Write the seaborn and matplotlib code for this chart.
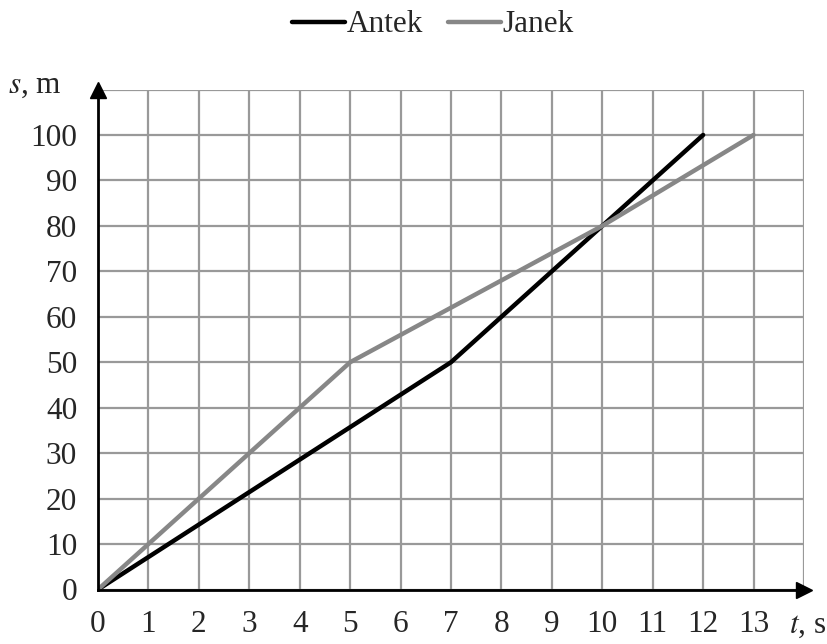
import pandas as pd
import matplotlib
matplotlib.use("Agg")
import matplotlib.pyplot as plt
import seaborn as sns

# data: time [s] and distance [m]
antek_t = [0, 7, 12]
antek_s = [0, 50, 100]
janek_t = [0, 5, 10, 13]
janek_s = [0, 50, 80, 100]
x_ticks = list(range(0, 14))
y_ticks = list(range(0, 101, 10))

df = pd.concat([
    pd.DataFrame({"t": antek_t, "s": antek_s, "name": "Antek"}),
    pd.DataFrame({"t": janek_t, "s": janek_s, "name": "Janek"}),
])

sns.set_style("white")
plt.rcParams['font.family'] = ['Liberation Serif', 'DejaVu Serif']

fig = plt.figure(figsize=(8.27, 6.44), dpi=100)
ax = fig.add_axes([98 / 827, 1 - 589.5 / 644, 706 / 827, 500 / 644])

sns.lineplot(data=df, x="t", y="s", hue="name",
             palette={"Antek": "black", "Janek": "#878787"},
             linewidth=3.2, ax=ax, legend=True, sort=False,
             solid_capstyle="round", zorder=3)

ax.set_xlim(0, 14)
ax.set_ylim(0, 110)
ax.set_xticks(list(range(0, 15)))
ax.set_yticks(list(range(0, 111, 10)))
ax.set_xticklabels([str(v) for v in x_ticks] + [""])
ax.set_yticklabels([str(v) for v in y_ticks] + [""])
ax.tick_params(axis="both", labelsize=22.5, length=9, width=2, color="black",
               direction="out", pad=6)
ax.grid(True, color="#999999", linewidth=1.6, zorder=0)
ax.set_axisbelow(True)

for side in ["top", "right"]:
    ax.spines[side].set_visible(False)
for side in ["left", "bottom"]:
    ax.spines[side].set_color("black")
    ax.spines[side].set_linewidth(2)
    ax.spines[side].set_zorder(4)

# arrow heads on the axes
ax.plot(1, 0, ">", color="black", markersize=11, transform=ax.transAxes,
        clip_on=False, zorder=5)
ax.plot(0, 1, "^", color="black", markersize=11, transform=ax.transAxes,
        clip_on=False, zorder=5)

ax.set_xlabel("")
ax.set_ylabel("")
fig.text(8 / 827, 1 - 85 / 644, "$\\mathit{s}$, m", fontsize=22.5,
         ha="left", va="center", math_fontfamily="stix")
fig.text(826 / 827, 1 - 626 / 644, "$\\mathit{t}$, s", fontsize=22.5,
         ha="right", va="center", math_fontfamily="stix")

handles, labels = ax.get_legend_handles_labels()
ax.legend(handles, labels, loc="center", bbox_to_anchor=(433 / 827, 1 - 25 / 644),
          bbox_transform=fig.transFigure, ncol=2, frameon=False, fontsize=22.5,
          handlelength=1.7, handletextpad=0.05, columnspacing=0.8)

fig.savefig("out.png", dpi=100)
